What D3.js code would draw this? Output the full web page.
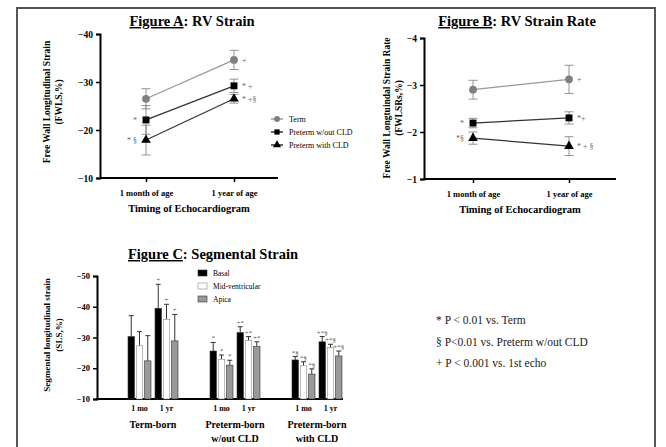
<!DOCTYPE html>
<html>
<head>
<meta charset="utf-8">
<script src="https://cdn.jsdelivr.net/npm/d3@7"></script>
<style>
  body { margin: 0; background: #fff; }
  svg text { font-family: "Liberation Serif", "Times New Roman", serif !important; }
</style>
</head>
<body>
<script>
// panels A and B
const timepoints = ["1 month of age", "1 year of age"];
const groups = ["Term", "Preterm w/out CLD", "Preterm with CLD"];
const strainMean = [[-26.5, -34.6], [-22.1, -29.2], [-17.9, -26.5]];
const strainErr = [[2.1, 2.0], [3.0, 1.4], [3.1, 0.9]];
const strainNotes = [["", "+"], ["*", "* +"], ["* §", "* +§"]];
const strainTicks = [-40, -30, -20, -10];
const rateMean = [[-2.9, -3.12], [-2.19, -2.3], [-1.87, -1.7]];
const rateErr = [[0.2, 0.3], [0.1, 0.13], [0.13, 0.2]];
const rateNotes = [["", "+"], ["*", "*+"], ["*§", "* + §"]];
const rateTicks = [-4, -3, -2, -1];

// panel C
const birthGroups = ["Term-born", "Preterm-born", "Preterm-born"];
const birthSub = ["", "w/out CLD", "with CLD"];
const visits = ["1 mo", "1 yr"];
const segments = ["Basal", "Mid-ventricular", "Apica"];
const segMean = [
  [[-30.3, -27.3, -22.4], [-39.5, -35.9, -28.9]],
  [[-25.6, -22.9, -21.0], [-31.6, -29.0, -27.1]],
  [[-22.7, -20.8, -18.1], [-28.6, -26.7, -24.0]]
];
const segErr = [
  [[6.8, 4.6, 8.2], [7.8, 4.9, 8.6]],
  [[2.8, 1.4, 1.6], [1.9, 1.3, 1.5]],
  [[1.1, 1.3, 1.7], [1.7, 1.1, 1.6]]
];
const segNotes = [
  [["", "", ""], ["+", "+", "+"]],
  [["*", "*", "*"], ["+*", "+*", "+*"]],
  [["*§", "*§", "*§"], ["+*§", "+*§", "+*§"]]
];
const segTicks = [-50, -40, -30, -20, -10];
const footnotes = ["* P < 0.01 vs. Term", "§ P<0.01 vs. Preterm w/out CLD", "+ P < 0.001 vs. 1st echo"];

const svg = d3.select('body').append('svg')
  .attr('width', 666)
  .attr('height', 447)
  .attr('font-family', '"Liberation Serif", "Times New Roman", serif')

svg.append('rect')
  .attr('x', 17).attr('y', 8).attr('width', 638).attr('height', 470)
  .attr('fill', 'none').attr('stroke', '#555').attr('stroke-width', 2)

const markerColor = ['#808080', '#000', '#000']
const lineColor = ['#999', '#333', '#333']
const symbols = [d3.symbolCircle, d3.symbolSquare, d3.symbolTriangle]

function title(x, y, bold, rest) {
  const t = svg.append('text').attr('x', x).attr('y', y)
    .attr('text-anchor', 'middle').attr('font-size', 14.5).attr('font-weight', 'bold')
  t.append('tspan').attr('text-decoration', 'underline').text(bold)
  t.append('tspan').text(rest)
}

function yLabel(x, cy, lines, size) {
  lines.forEach((l, i) => {
    svg.append('text')
      .attr('transform', `translate(${x + i * 12},${cy}) rotate(-90)`)
      .attr('text-anchor', 'middle').attr('font-size', size).attr('font-weight', 'bold')
      .text(l)
  })
}

function styleAxis(g) {
  g.select('.domain').attr('stroke-width', 2)
  g.selectAll('.tick line').attr('stroke-width', 1.5)
  g.selectAll('text').attr('font-family', '"Liberation Serif", serif')
    .attr('font-weight', 'bold').attr('font-size', 8.5).attr('fill', '#000')
}

function linePanel(opt) {
  const y = d3.scaleLinear().domain(opt.domain).range([opt.bottom, opt.top])
  const x = d3.scalePoint().domain(timepoints).range([opt.x0, opt.x1])

  const ay = svg.append('g').attr('transform', `translate(${opt.left},0)`)
    .call(d3.axisLeft(y).tickValues(opt.ticks).tickSize(4).tickFormat(d3.format('d')))
  const ax = svg.append('g').attr('transform', `translate(0,${opt.bottom})`)
    .call(d3.axisBottom(x).tickSize(4).tickPadding(8))
  ax.select('.domain').attr('d', `M${opt.left},0H${opt.right}`)
  styleAxis(ay)
  styleAxis(ax)
  ay.selectAll('text').attr('font-size', 9.5)

  svg.append('text').attr('x', (opt.left + opt.right) / 2).attr('y', opt.bottom + 34)
    .attr('text-anchor', 'middle').attr('font-size', 10.5).attr('font-weight', 'bold')
    .text('Timing of Echocardiogram')

  groups.forEach((g, gi) => {
    const pts = timepoints.map((t, ti) => [x(t), y(opt.mean[gi][ti])])
    svg.append('path').attr('d', d3.line()(pts))
      .attr('fill', 'none').attr('stroke', lineColor[gi]).attr('stroke-width', 1.2)
    timepoints.forEach((t, ti) => {
      const cx = x(t), m = opt.mean[gi][ti], e = opt.err[gi][ti]
      const eb = svg.append('g').attr('stroke', '#888').attr('stroke-width', 0.9)
      eb.append('line').attr('x1', cx).attr('x2', cx).attr('y1', y(m - e)).attr('y2', y(m + e))
      eb.append('line').attr('x1', cx - 4.5).attr('x2', cx + 4.5).attr('y1', y(m - e)).attr('y2', y(m - e))
      eb.append('line').attr('x1', cx - 4.5).attr('x2', cx + 4.5).attr('y1', y(m + e)).attr('y2', y(m + e))
      svg.append('path')
        .attr('transform', `translate(${cx},${y(m)})`)
        .attr('d', d3.symbol(symbols[gi], gi === 2 ? 40 : 48)())
        .attr('fill', markerColor[gi])
      const note = opt.notes[gi][ti]
      if (note) {
        svg.append('text')
          .attr('x', ti === 0 ? cx - 9 : cx + 8).attr('y', y(m) + 3)
          .attr('text-anchor', ti === 0 ? 'end' : 'start')
          .attr('font-size', 8).attr('fill', '#666').text(note)
      }
    })
  })
}

// Figure A
title(192, 26, 'Figure A', ': RV Strain')
yLabel(50, 102, ['Free Wall Longitudinal Strain', '(FWLS,%)'], 9.5)
linePanel({domain: [-10, -40], top: 34, bottom: 178, left: 100, right: 278, x0: 146, x1: 234,
  ticks: strainTicks, mean: strainMean, err: strainErr, notes: strainNotes})

// legend A
groups.forEach((g, gi) => {
  const ly = 119 + gi * 13
  svg.append('line').attr('x1', 271).attr('x2', 283).attr('y1', ly).attr('y2', ly)
    .attr('stroke', markerColor[gi]).attr('stroke-width', 1.2)
  svg.append('path').attr('transform', `translate(277,${ly})`)
    .attr('d', d3.symbol(symbols[gi], 28)()).attr('fill', markerColor[gi])
  svg.append('text').attr('x', 289).attr('y', ly + 3).attr('font-size', 8).text(g)
})

// Figure B
title(517, 26, 'Figure B', ': RV Strain Rate')
yLabel(390, 108, ['Free Wall Longtuindal Strain Rate', '(FWLSRs,%)'], 9.5)
linePanel({domain: [-1, -4], top: 38, bottom: 179, left: 424, right: 616, x0: 473, x1: 569,
  ticks: rateTicks, mean: rateMean, err: rateErr, notes: rateNotes})

// Figure C
title(213, 259, 'Figure C', ': Segmental Strain')
yLabel(50, 335, ['Segmental longitudinal strain', '(SLS,%)'], 9)

const yC = d3.scaleLinear().domain([-10, -50]).range([399, 276])
const xGroup = d3.scalePoint().domain(d3.range(3)).range([153, 317])
const xVisit = d3.scaleBand().domain(visits).range([-27, 27])
const xSeg = d3.scaleBand().domain(segments).range([-11.5, 11.5]).paddingInner(0.22)
const segFill = ['#000', '#fff', '#999']

const ayC = svg.append('g').attr('transform', 'translate(97,0)')
  .call(d3.axisLeft(yC).tickValues(segTicks).tickSize(4).tickFormat(d3.format('d')))
styleAxis(ayC)
svg.append('line').attr('x1', 96).attr('x2', 343).attr('y1', 399).attr('y2', 399)
  .attr('stroke', '#000').attr('stroke-width', 2)

segMean.forEach((grp, gi) => {
  grp.forEach((vals, vi) => {
    const cx0 = xGroup(gi) + xVisit(visits[vi]) + xVisit.bandwidth() / 2
    svg.append('text').attr('x', cx0).attr('y', 411).attr('text-anchor', 'middle')
      .attr('font-size', 8).attr('font-weight', 'bold').text(visits[vi])
    vals.forEach((v, si) => {
      const bx = cx0 + xSeg(segments[si])
      const bw = xSeg.bandwidth()
      const mid = bx + bw / 2
      const top = yC(v - segErr[gi][vi][si])
      svg.append('line').attr('x1', mid).attr('x2', mid).attr('y1', top).attr('y2', yC(v))
        .attr('stroke', '#333').attr('stroke-width', 1)
      svg.append('line').attr('x1', mid - 2.5).attr('x2', mid + 2.5).attr('y1', top).attr('y2', top)
        .attr('stroke', '#333').attr('stroke-width', 1)
      svg.append('rect').attr('x', bx).attr('y', yC(v)).attr('width', bw).attr('height', 399 - yC(v))
        .attr('fill', segFill[si]).attr('stroke', si === 1 ? '#888' : '#333').attr('stroke-width', 0.6)
      const note = segNotes[gi][vi][si]
      if (note) {
        svg.append('text').attr('x', mid).attr('y', top - 2).attr('text-anchor', 'middle')
          .attr('font-size', 7).attr('fill', '#555').text(note)
      }
    })
  })
  svg.append('text').attr('x', xGroup(gi)).attr('y', 428).attr('text-anchor', 'middle')
    .attr('font-size', 10).attr('font-weight', 'bold').text(birthGroups[gi])
  if (birthSub[gi]) {
    svg.append('text').attr('x', xGroup(gi)).attr('y', 442).attr('text-anchor', 'middle')
      .attr('font-size', 10).attr('font-weight', 'bold').text(birthSub[gi])
  }
})

// legend C
segments.forEach((s, si) => {
  const ly = 274 + si * 13
  svg.append('rect').attr('x', 198).attr('y', ly - 4).attr('width', 9).attr('height', 6)
    .attr('fill', segFill[si]).attr('stroke', si === 1 ? '#888' : '#333').attr('stroke-width', 0.6)
  svg.append('text').attr('x', 213).attr('y', ly + 2).attr('font-size', 7.5).text(s)
})

footnotes.forEach((f, i) => {
  svg.append('text').attr('x', 436).attr('y', 324 + i * 21.5).attr('font-size', 11.5).attr('fill', '#222').text(f)
})
</script>
</body>
</html>
